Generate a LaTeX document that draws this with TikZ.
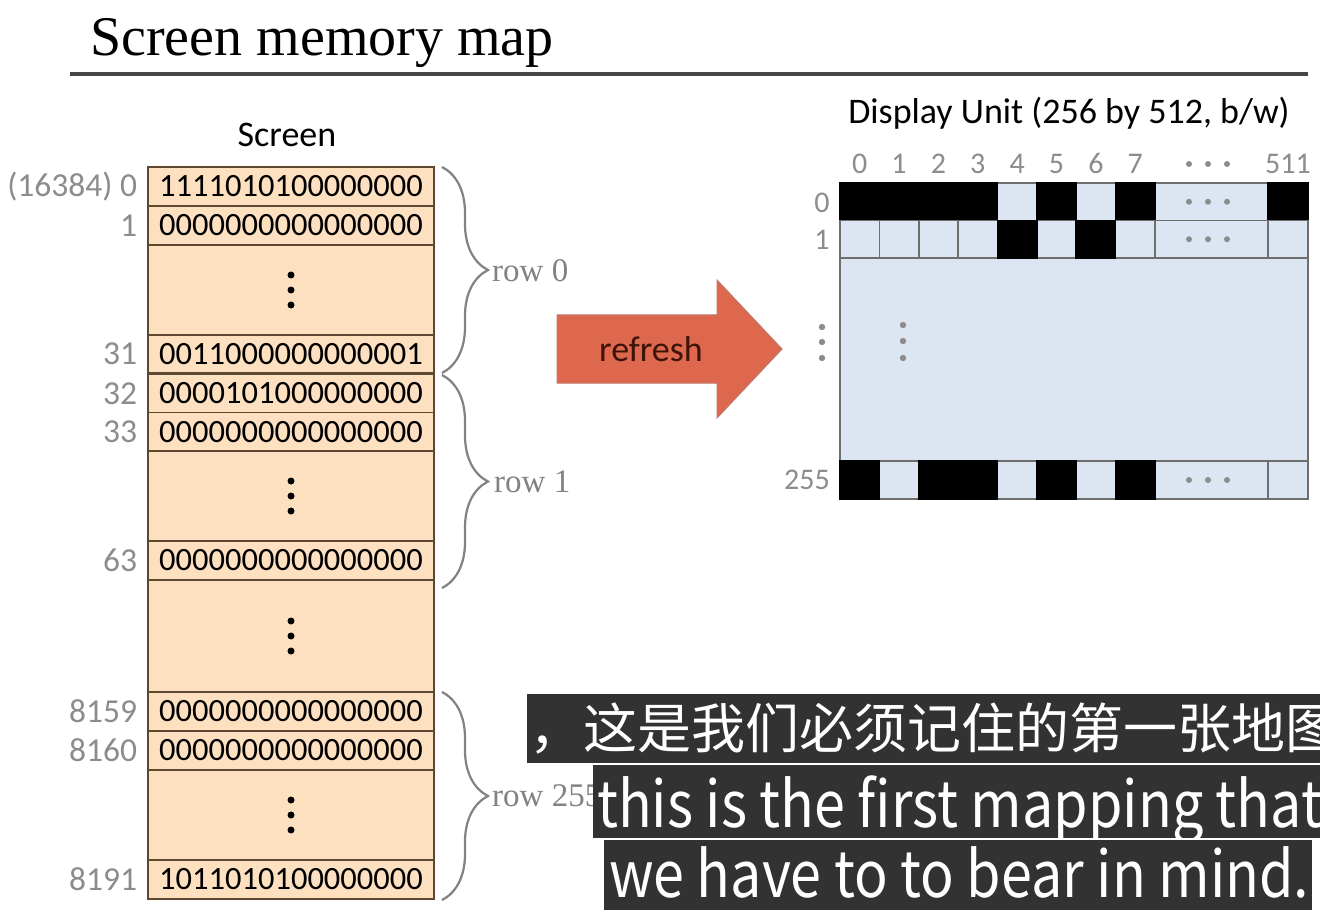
\documentclass[tikz,border=0pt]{standalone}
\usepackage{fontspec}
\setmainfont{Liberation Serif}
\newfontfamily\carl{Carlito}
\newfontfamily\cjk{Noto Sans CJK SC}
\usetikzlibrary{decorations.pathreplacing}
\definecolor{peach}{RGB}{252,224,192}
\definecolor{cellbrd}{RGB}{95,72,50}
\definecolor{lbl}{RGB}{140,140,140}
\definecolor{pix}{RGB}{220,230,242}
\definecolor{gridc}{RGB}{110,110,110}
\definecolor{arrowc}{RGB}{222,104,78}
\definecolor{arrowbrd}{RGB}{190,120,110}
\definecolor{subbg}{RGB}{50,50,50}
\definecolor{rulec}{RGB}{70,70,70}
\definecolor{bracec}{RGB}{130,130,130}
\tikzset{
  word/.style={draw=cellbrd, fill=peach, line width=1.5pt, minimum width=286pt, inner sep=0pt,
    font=\carl\fontsize{32.5}{39}\selectfont},
  addr/.style={anchor=east, text=lbl, inner sep=0pt, font=\carl\fontsize{33.5}{39}\selectfont},
  rowbrace/.style={draw=bracec, line width=2.2pt, decorate, decoration={brace, amplitude=46pt}},
  rowlab/.style={anchor=west, text=bracec, inner sep=0pt, font=\fontsize{33}{36}\selectfont},
  collab/.style={anchor=base, text=lbl, inner sep=0pt, font=\carl\fontsize{30}{34}\selectfont},
  heading/.style={anchor=base, inner sep=0pt, font=\carl\fontsize{36}{40}\selectfont},
  subbox/.style={fill=subbg},
  subcjk/.style={anchor=west, text=white, inner sep=0pt, font=\cjk\fontsize{54}{60}\selectfont},
  subtext/.style={anchor=base west, text=white, inner sep=0pt, xscale=0.87, font=\cjk\fontsize{64}{70}\selectfont},
}
\newcommand\pixrow[3]{% top, bottom, bits
  \foreach \xl/\xr [count=\i from 0] in {840/879.375,879.375/918.75,918.75/958.125,958.125/997.5,997.5/1036.875,1036.875/1076.25,1076.25/1115.625,1115.625/1155,1155/1268,1268/1308}{
    \draw[draw=gridc, fill=pix, line width=1.5pt] (\xl,#1) rectangle (\xr,#2);
  }
  \foreach \xl/\xr [count=\i from 0] in {840/879.375,879.375/918.75,918.75/958.125,958.125/997.5,997.5/1036.875,1036.875/1076.25,1076.25/1115.625,1115.625/1155,1155/1268,1268/1308}{
    \pgfmathtruncatemacro\bit{{#3}[\i]}
    \ifnum\bit=1 \fill[black] (\xl-0.8,#1-0.8) rectangle (\xr+0.8,#2+0.8);\fi
  }
  \foreach \xx in {1189,1208,1227}{\fill[lbl] (\xx,{(#1+#2)/2}) circle (3pt);}
}
\begin{document}
\begin{tikzpicture}[x=1pt,y=-1pt]
\useasboundingbox (0,0) rectangle (1320,917);
\clip (0,0) rectangle (1320,917);
\fill[white] (0,0) rectangle (1320,917);

% title
\node[anchor=base west, inner sep=0pt, font=\fontsize{56}{60}\selectfont] (title) at (90,56) {Screen memory map};
\draw[rulec, line width=4pt] (70,74) -- (1308,74);

% screen column
\node[heading] (screenlab) at (287,147) {Screen};
\node[word, minimum height=39pt] (w0) at (291,186.5) {1111010100000000};
\node[word, minimum height=39pt] (w1) at (291,225.5) {0000000000000000};
\node[word, minimum height=90pt] (d0) at (291,290) {};
\node[word, minimum height=38pt] (w31) at (291,354) {0011000000000001};
\node[word, minimum height=38pt] (w32) at (291,393.5) {0000101000000000};
\node[word, minimum height=38.5pt] (w33) at (291,431.75) {0000000000000000};
\node[word, minimum height=90pt] (d1) at (291,496) {};
\node[word, minimum height=39pt] (w63) at (291,560.5) {0000000000000000};
\node[word, minimum height=112pt] (dm) at (291,636) {};
\node[word, minimum height=39pt] (w8159) at (291,711.5) {0000000000000000};
\node[word, minimum height=39pt] (w8160) at (291,750.5) {0000000000000000};
\node[word, minimum height=90pt] (d255) at (291,815) {};
\node[word, minimum height=39pt] (w8191) at (291,879.5) {1011010100000000};
\draw[cellbrd, line width=3pt] (w31.south west) -- (w31.south east);
\foreach \n in {d0,d1,dm,d255}{
  \foreach \dy in {-15,0,15}{\fill[black] ([yshift=\dy pt]\n.center) circle (3.5pt);}
}

% addresses
\node[addr] (a0) at ([xshift=-10pt]w0.west) {(16384) 0};
\node[addr] (a1) at ([xshift=-10pt]w1.west) {1};
\node[addr] (a31) at ([xshift=-10pt]w31.west) {31};
\node[addr] (a32) at ([xshift=-10pt]w32.west) {32};
\node[addr] (a33) at ([xshift=-10pt]w33.west) {33};
\node[addr] (a63) at ([xshift=-10pt]w63.west) {63};
\node[addr] (a8159) at ([xshift=-10pt]w8159.west) {8159};
\node[addr] (a8160) at ([xshift=-10pt]w8160.west) {8160};
\node[addr] (a8191) at ([xshift=-10pt]w8191.west) {8191};

% braces
\coordinate (b0t) at (442,167); \coordinate (b0b) at (442,373);
\coordinate (b1t) at (442,375); \coordinate (b1b) at (442,588);
\coordinate (b2t) at (442,692); \coordinate (b2b) at (442,900);
\draw[rowbrace] (b0t) -- (b0b);
\draw[rowbrace] (b1t) -- (b1b);
\draw[rowbrace] (b2t) -- (b2b);
\node[rowlab] (r0) at (492,271) {row 0};
\node[rowlab] (r1) at (494,482) {row 1};
\node[rowlab] (r255) at (492,796) {row 255};

% refresh arrow
\draw[fill=arrowc, draw=arrowbrd, line width=1pt] (557,315) -- (717,315) -- (717,280) -- (782,349) -- (717,418) -- (717,383) -- (557,383) -- cycle;
\node[inner sep=0pt, text={rgb,255:red,60;green,20;blue,10}, font=\carl\fontsize{36}{40}\selectfont] (refresh) at (651,349) {refresh};

% display unit
\node[heading] (disp) at (1069,124) {Display Unit (256 by 512, b/w)};
\foreach \c [count=\i from 0] in {0,1,2,3,4,5,6,7}{
  \node[collab] (c\i) at ({840+39.375*(\i+0.5)},174) {\c};
}
\node[collab] (c511) at (1288,174) {511};
\foreach \xx in {1189,1208,1227}{\fill[lbl] (\xx,164) circle (3pt);}

\draw[draw=gridc, fill=pix, line width=1.5pt] (840,258) rectangle (1308,461);
\pixrow{183}{220.5}{1,1,1,1,0,1,0,1,0,1}
\pixrow{220.5}{258}{0,0,0,0,1,0,1,0,0,0}
\pixrow{461}{499}{1,0,1,1,0,1,0,1,0,0}

\node[collab, anchor=center] (row0) at (822,203) {0};
\node[collab, anchor=center] (row1) at (822,240) {1};
\node[collab, anchor=east] (row255) at (830,480) {255};
\foreach \yy in {327,342,358}{\fill[lbl] (822,\yy) circle (3.2pt);}
\foreach \yy in {325,341,358}{\fill[lbl] (903,\yy) circle (3.2pt);}

% subtitles
\fill[subbox] (527,694) rectangle (1320,763);
\node[subcjk] (s1) at (529,728.5) {，这是我们必须记住的第一张地图};
\fill[subbox] (593,765) rectangle (1320,838);
\node[subtext] (s2) at (597,827) {this is the first mapping that};
\fill[subbox] (604,840) rectangle (1312,910);
\node[subtext] (s3) at (609,897) {we have to to bear in mind.};
\end{tikzpicture}
\end{document}
